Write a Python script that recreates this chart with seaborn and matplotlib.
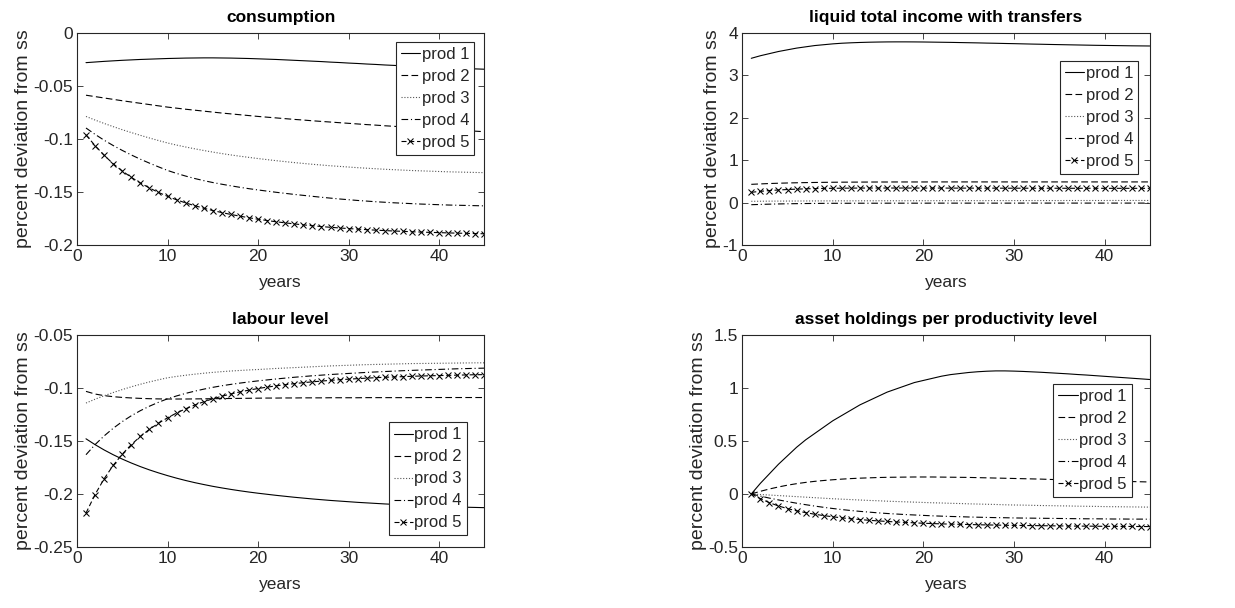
import matplotlib
matplotlib.use("Agg")
import matplotlib.pyplot as plt
import seaborn as sns
import pandas as pd
from matplotlib.ticker import FuncFormatter

# ---------------- data ----------------
years = list(range(1, 46))
series_names = ["prod 1", "prod 2", "prod 3", "prod 4", "prod 5"]

# consumption
cons_p1 = [-0.0281, -0.0275, -0.0269, -0.0264, -0.0259, -0.0255, -0.0251, -0.0248, -0.0245, -0.0242,
           -0.0240, -0.0238, -0.0237, -0.0236, -0.0236, -0.0237, -0.0238, -0.0240, -0.0242, -0.0245,
           -0.0248, -0.0251, -0.0255, -0.0259, -0.0263, -0.0267, -0.0271, -0.0276, -0.0280, -0.0285,
           -0.0289, -0.0294, -0.0298, -0.0303, -0.0307, -0.0311, -0.0315, -0.0319, -0.0323, -0.0327,
           -0.0330, -0.0334, -0.0337, -0.0340, -0.0343]
cons_p2 = [-0.0588, -0.0601, -0.0614, -0.0627, -0.0640, -0.0652, -0.0664, -0.0676, -0.0688, -0.0700,
           -0.0710, -0.0720, -0.0729, -0.0738, -0.0747, -0.0756, -0.0764, -0.0772, -0.0780, -0.0788,
           -0.0795, -0.0802, -0.0809, -0.0816, -0.0822, -0.0829, -0.0835, -0.0841, -0.0847, -0.0853,
           -0.0859, -0.0865, -0.0870, -0.0876, -0.0881, -0.0887, -0.0892, -0.0897, -0.0902, -0.0907,
           -0.0912, -0.0917, -0.0922, -0.0927, -0.0932]
cons_p3 = [-0.0788, -0.0822, -0.0854, -0.0884, -0.0913, -0.0940, -0.0966, -0.0991, -0.1015, -0.1038,
           -0.1058, -0.1076, -0.1093, -0.1109, -0.1124, -0.1138, -0.1151, -0.1163, -0.1174, -0.1185,
           -0.1195, -0.1205, -0.1214, -0.1223, -0.1231, -0.1239, -0.1246, -0.1253, -0.1259, -0.1265,
           -0.1271, -0.1276, -0.1281, -0.1286, -0.1290, -0.1294, -0.1298, -0.1301, -0.1304, -0.1307,
           -0.1310, -0.1312, -0.1314, -0.1316, -0.1318]
cons_p4 = [-0.0897, -0.0957, -0.1012, -0.1062, -0.1108, -0.1151, -0.1191, -0.1228, -0.1263, -0.1297,
           -0.1325, -0.1350, -0.1373, -0.1393, -0.1411, -0.1427, -0.1442, -0.1456, -0.1469, -0.1481,
           -0.1492, -0.1503, -0.1513, -0.1523, -0.1532, -0.1541, -0.1550, -0.1558, -0.1566, -0.1573,
           -0.1580, -0.1586, -0.1592, -0.1597, -0.1602, -0.1606, -0.1610, -0.1614, -0.1617, -0.1620,
           -0.1623, -0.1625, -0.1627, -0.1629, -0.1631]
cons_p5 = [-0.0962, -0.1063, -0.1154, -0.1234, -0.1302, -0.1362, -0.1415, -0.1462, -0.1504, -0.1541,
           -0.1574, -0.1603, -0.1629, -0.1653, -0.1675, -0.1694, -0.1712, -0.1728, -0.1743, -0.1757,
           -0.1769, -0.1781, -0.1791, -0.1801, -0.1810, -0.1818, -0.1826, -0.1833, -0.1839, -0.1845,
           -0.1850, -0.1855, -0.1860, -0.1864, -0.1868, -0.1871, -0.1875, -0.1878, -0.1881, -0.1883,
           -0.1886, -0.1888, -0.1890, -0.1892, -0.1894]

# liquid total income with transfers
inc_p1 = [3.400, 3.460, 3.510, 3.560, 3.600, 3.640, 3.670, 3.700, 3.720, 3.740,
          3.755, 3.765, 3.773, 3.779, 3.783, 3.786, 3.787, 3.787, 3.786, 3.784,
          3.781, 3.778, 3.775, 3.771, 3.767, 3.763, 3.758, 3.754, 3.749, 3.745,
          3.740, 3.735, 3.731, 3.726, 3.722, 3.718, 3.714, 3.710, 3.706, 3.703,
          3.700, 3.697, 3.694, 3.692, 3.690]
inc_p2 = [0.430, 0.440, 0.449, 0.456, 0.462, 0.467, 0.471, 0.474, 0.477, 0.479,
          0.481, 0.482, 0.483, 0.484, 0.485, 0.485, 0.486, 0.486, 0.486, 0.486,
          0.487, 0.487, 0.487, 0.487, 0.487, 0.487, 0.487, 0.487, 0.487, 0.487,
          0.487, 0.487, 0.487, 0.487, 0.487, 0.487, 0.487, 0.487, 0.487, 0.487,
          0.487, 0.487, 0.487, 0.487, 0.487]
inc_p3 = [0.030, 0.032, 0.034, 0.035, 0.036, 0.037, 0.038, 0.039, 0.040, 0.040,
          0.041, 0.041, 0.042, 0.042, 0.043, 0.043, 0.043, 0.044, 0.044, 0.044,
          0.045, 0.045, 0.045, 0.046, 0.046, 0.046, 0.046, 0.047, 0.047, 0.047,
          0.047, 0.048, 0.048, 0.048, 0.048, 0.049, 0.049, 0.049, 0.049, 0.049,
          0.050, 0.050, 0.050, 0.050, 0.050]
inc_p4 = [-0.050, -0.043, -0.037, -0.032, -0.028, -0.025, -0.022, -0.020, -0.018, -0.017,
          -0.016, -0.016, -0.015, -0.015, -0.015, -0.014, -0.014, -0.014, -0.014, -0.014,
          -0.013, -0.013, -0.013, -0.013, -0.013, -0.013, -0.013, -0.013, -0.013, -0.013,
          -0.012, -0.012, -0.012, -0.012, -0.012, -0.012, -0.012, -0.012, -0.012, -0.012,
          -0.012, -0.012, -0.012, -0.012, -0.012]
inc_p5 = [0.242, 0.265, 0.283, 0.297, 0.308, 0.317, 0.324, 0.330, 0.334, 0.337,
          0.339, 0.341, 0.342, 0.343, 0.343, 0.343, 0.343, 0.343, 0.343, 0.342,
          0.342, 0.342, 0.341, 0.341, 0.341, 0.340, 0.340, 0.340, 0.339, 0.339,
          0.339, 0.338, 0.338, 0.338, 0.338, 0.337, 0.337, 0.337, 0.337, 0.336,
          0.336, 0.336, 0.336, 0.336, 0.336]

# labour level
lab_p1 = [-0.1480, -0.1535, -0.1585, -0.1630, -0.1671, -0.1708, -0.1742, -0.1773, -0.1801, -0.1827,
          -0.1851, -0.1873, -0.1893, -0.1911, -0.1928, -0.1943, -0.1957, -0.1970, -0.1982, -0.1993,
          -0.2003, -0.2013, -0.2022, -0.2031, -0.2039, -0.2047, -0.2054, -0.2061, -0.2067, -0.2073,
          -0.2079, -0.2084, -0.2089, -0.2094, -0.2098, -0.2102, -0.2106, -0.2110, -0.2113, -0.2116,
          -0.2119, -0.2122, -0.2125, -0.2127, -0.2129]
lab_p2 = [-0.1033, -0.1058, -0.1073, -0.1083, -0.1090, -0.1095, -0.1099, -0.1102, -0.1104, -0.1105,
          -0.1105, -0.1105, -0.1104, -0.1103, -0.1102, -0.1101, -0.1100, -0.1099, -0.1098, -0.1097,
          -0.1096, -0.1096, -0.1095, -0.1095, -0.1094, -0.1094, -0.1094, -0.1093, -0.1093, -0.1093,
          -0.1093, -0.1092, -0.1092, -0.1092, -0.1092, -0.1092, -0.1092, -0.1091, -0.1091, -0.1091,
          -0.1091, -0.1091, -0.1091, -0.1091, -0.1091]
lab_p3 = [-0.1143, -0.1107, -0.1074, -0.1044, -0.1016, -0.0990, -0.0966, -0.0944, -0.0924, -0.0905,
          -0.0892, -0.0881, -0.0871, -0.0862, -0.0854, -0.0847, -0.0841, -0.0836, -0.0831, -0.0827,
          -0.0822, -0.0817, -0.0813, -0.0809, -0.0805, -0.0801, -0.0797, -0.0793, -0.0790, -0.0787,
          -0.0784, -0.0781, -0.0779, -0.0777, -0.0775, -0.0773, -0.0771, -0.0770, -0.0769, -0.0768,
          -0.0767, -0.0766, -0.0765, -0.0764, -0.0764]
lab_p4 = [-0.1630, -0.1535, -0.1453, -0.1381, -0.1318, -0.1263, -0.1215, -0.1173, -0.1136, -0.1103,
          -0.1076, -0.1052, -0.1031, -0.1012, -0.0995, -0.0980, -0.0967, -0.0955, -0.0944, -0.0934,
          -0.0925, -0.0916, -0.0908, -0.0900, -0.0893, -0.0886, -0.0880, -0.0874, -0.0869, -0.0864,
          -0.0859, -0.0854, -0.0850, -0.0846, -0.0842, -0.0838, -0.0835, -0.0832, -0.0829, -0.0826,
          -0.0823, -0.0820, -0.0818, -0.0816, -0.0814]
lab_p5 = [-0.2180, -0.2005, -0.1857, -0.1731, -0.1625, -0.1535, -0.1458, -0.1391, -0.1333, -0.1282,
          -0.1237, -0.1197, -0.1162, -0.1131, -0.1103, -0.1079, -0.1057, -0.1038, -0.1021, -0.1006,
          -0.0993, -0.0981, -0.0970, -0.0960, -0.0951, -0.0943, -0.0936, -0.0929, -0.0923, -0.0918,
          -0.0913, -0.0908, -0.0904, -0.0900, -0.0897, -0.0894, -0.0891, -0.0888, -0.0886, -0.0884,
          -0.0882, -0.0880, -0.0878, -0.0876, -0.0875]

# asset holdings per productivity level
ast_p1 = [0.000, 0.100, 0.190, 0.280, 0.360, 0.440, 0.510, 0.570, 0.630, 0.690,
          0.740, 0.790, 0.840, 0.880, 0.920, 0.960, 0.990, 1.020, 1.050, 1.070,
          1.090, 1.110, 1.125, 1.135, 1.145, 1.152, 1.157, 1.160, 1.160, 1.158,
          1.155, 1.151, 1.147, 1.142, 1.137, 1.132, 1.126, 1.121, 1.115, 1.109,
          1.103, 1.097, 1.091, 1.085, 1.079]
ast_p2 = [0.000, 0.025, 0.047, 0.066, 0.083, 0.097, 0.109, 0.119, 0.127, 0.134,
          0.140, 0.145, 0.149, 0.152, 0.155, 0.157, 0.158, 0.159, 0.160, 0.160,
          0.160, 0.159, 0.158, 0.157, 0.156, 0.154, 0.152, 0.150, 0.148, 0.146,
          0.144, 0.142, 0.140, 0.137, 0.135, 0.132, 0.130, 0.128, 0.125, 0.123,
          0.121, 0.119, 0.117, 0.115, 0.113]
ast_p3 = [0.000, -0.005, -0.010, -0.015, -0.020, -0.025, -0.030, -0.035, -0.040, -0.045,
          -0.049, -0.053, -0.057, -0.061, -0.064, -0.068, -0.071, -0.074, -0.077, -0.080,
          -0.083, -0.085, -0.088, -0.090, -0.093, -0.095, -0.097, -0.099, -0.102, -0.104,
          -0.105, -0.107, -0.109, -0.110, -0.112, -0.113, -0.115, -0.116, -0.117, -0.119,
          -0.120, -0.121, -0.122, -0.123, -0.124]
ast_p4 = [0.000, -0.020, -0.039, -0.056, -0.072, -0.087, -0.101, -0.114, -0.126, -0.137,
          -0.147, -0.156, -0.164, -0.171, -0.178, -0.184, -0.189, -0.194, -0.198, -0.202,
          -0.206, -0.209, -0.212, -0.214, -0.217, -0.219, -0.221, -0.223, -0.224, -0.226,
          -0.227, -0.228, -0.229, -0.230, -0.231, -0.232, -0.233, -0.234, -0.234, -0.235,
          -0.236, -0.236, -0.237, -0.237, -0.238]
ast_p5 = [0.000, -0.044, -0.082, -0.113, -0.138, -0.159, -0.176, -0.191, -0.204, -0.215,
          -0.225, -0.234, -0.241, -0.248, -0.254, -0.259, -0.264, -0.268, -0.272, -0.276,
          -0.279, -0.282, -0.284, -0.286, -0.288, -0.290, -0.292, -0.293, -0.295, -0.296,
          -0.297, -0.298, -0.299, -0.300, -0.301, -0.302, -0.303, -0.303, -0.304, -0.305,
          -0.305, -0.306, -0.306, -0.307, -0.307]

titles = ["consumption", "liquid total income with transfers",
          "labour level", "asset holdings per productivity level"]
ylims = [(-0.2, 0), (-1, 4), (-0.25, -0.05), (-0.5, 1.5)]
yticks = [[-0.2, -0.15, -0.1, -0.05, 0], [-1, 0, 1, 2, 3, 4],
          [-0.25, -0.2, -0.15, -0.1, -0.05], [-0.5, 0, 0.5, 1, 1.5]]
xticks = [0, 10, 20, 30, 40]

panels = [
    [cons_p1, cons_p2, cons_p3, cons_p4, cons_p5],
    [inc_p1, inc_p2, inc_p3, inc_p4, inc_p5],
    [lab_p1, lab_p2, lab_p3, lab_p4, lab_p5],
    [ast_p1, ast_p2, ast_p3, ast_p4, ast_p5],
]

# ---------------- style ----------------
sns.set_style("ticks")
plt.rcParams["font.family"] = ["Liberation Sans", "DejaVu Sans"]
plt.rcParams["axes.unicode_minus"] = False

dark = "#262626"
line_styles = [
    dict(linestyle="-", color="black"),
    dict(linestyle=(0, (6, 3)), color="black"),
    dict(linestyle=(0, (1, 1.6)), color="#555555"),
    dict(linestyle=(0, (6, 2.5, 1, 2.5)), color="black"),
    dict(linestyle=(0, (4.5, 2.5)), color="black", marker="x", markersize=4,
         markeredgewidth=0.75, markeredgecolor="black", markerfacecolor="black"),
]

legend_pos = [
    dict(loc="upper right", bbox_to_anchor=(0.975, 0.957)),
    dict(loc="upper right", bbox_to_anchor=(0.972, 0.866)),
    dict(loc="lower right", bbox_to_anchor=(0.957, 0.055)),
    dict(loc="upper right", bbox_to_anchor=(0.956, 0.770)),
]

fig = plt.figure(figsize=(12.35, 6.08), dpi=100)
positions = [
    [0.0623, 0.597, 0.330, 0.349],
    [0.601, 0.597, 0.330, 0.349],
    [0.0623, 0.1003, 0.330, 0.349],
    [0.601, 0.1003, 0.330, 0.349],
]

fmt = FuncFormatter(lambda v, p: "%g" % round(v, 6))

for k in range(4):
    ax = fig.add_axes(positions[k])
    rows = []
    for name, vals in zip(series_names, panels[k]):
        for yr, v in zip(years, vals):
            rows.append({"years": yr, "value": v, "series": name})
    df = pd.DataFrame(rows)
    for i, name in enumerate(series_names):
        sub = df[df["series"] == name]
        kw = dict(linewidth=0.8, label=name)
        kw.update(line_styles[i])
        sns.lineplot(data=sub, x="years", y="value", ax=ax, **kw)
    ax.set_xlim(0, 45)
    ax.set_ylim(*ylims[k])
    ax.set_xticks(xticks)
    ax.set_yticks(yticks[k])
    ax.xaxis.set_major_formatter(fmt)
    ax.yaxis.set_major_formatter(fmt)
    ax.tick_params(direction="in", top=True, right=True, length=4, width=0.6,
                   labelsize=12.5, colors=dark, labelcolor=dark, pad=3)
    for s in ax.spines.values():
        s.set_visible(True)
        s.set_linewidth(0.8)
        s.set_color(dark)
    ax.set_title(titles[k], fontsize=12.5, fontweight="bold", color="black", pad=8)
    ax.set_xlabel("years", fontsize=12.5, color=dark, labelpad=8)
    ax.set_ylabel("percent deviation from ss", fontsize=14, color=dark, labelpad=1)
    leg = ax.legend(fontsize=12, frameon=True, fancybox=False, borderaxespad=0,
                    handlelength=1.15, handletextpad=0.1, borderpad=0.3,
                    labelspacing=0.42, **legend_pos[k])
    leg.get_frame().set_edgecolor(dark)
    leg.get_frame().set_linewidth(0.8)
    leg.get_frame().set_alpha(1)
    for t in leg.get_texts():
        t.set_color(dark)

fig.savefig("out.png", dpi=100)
